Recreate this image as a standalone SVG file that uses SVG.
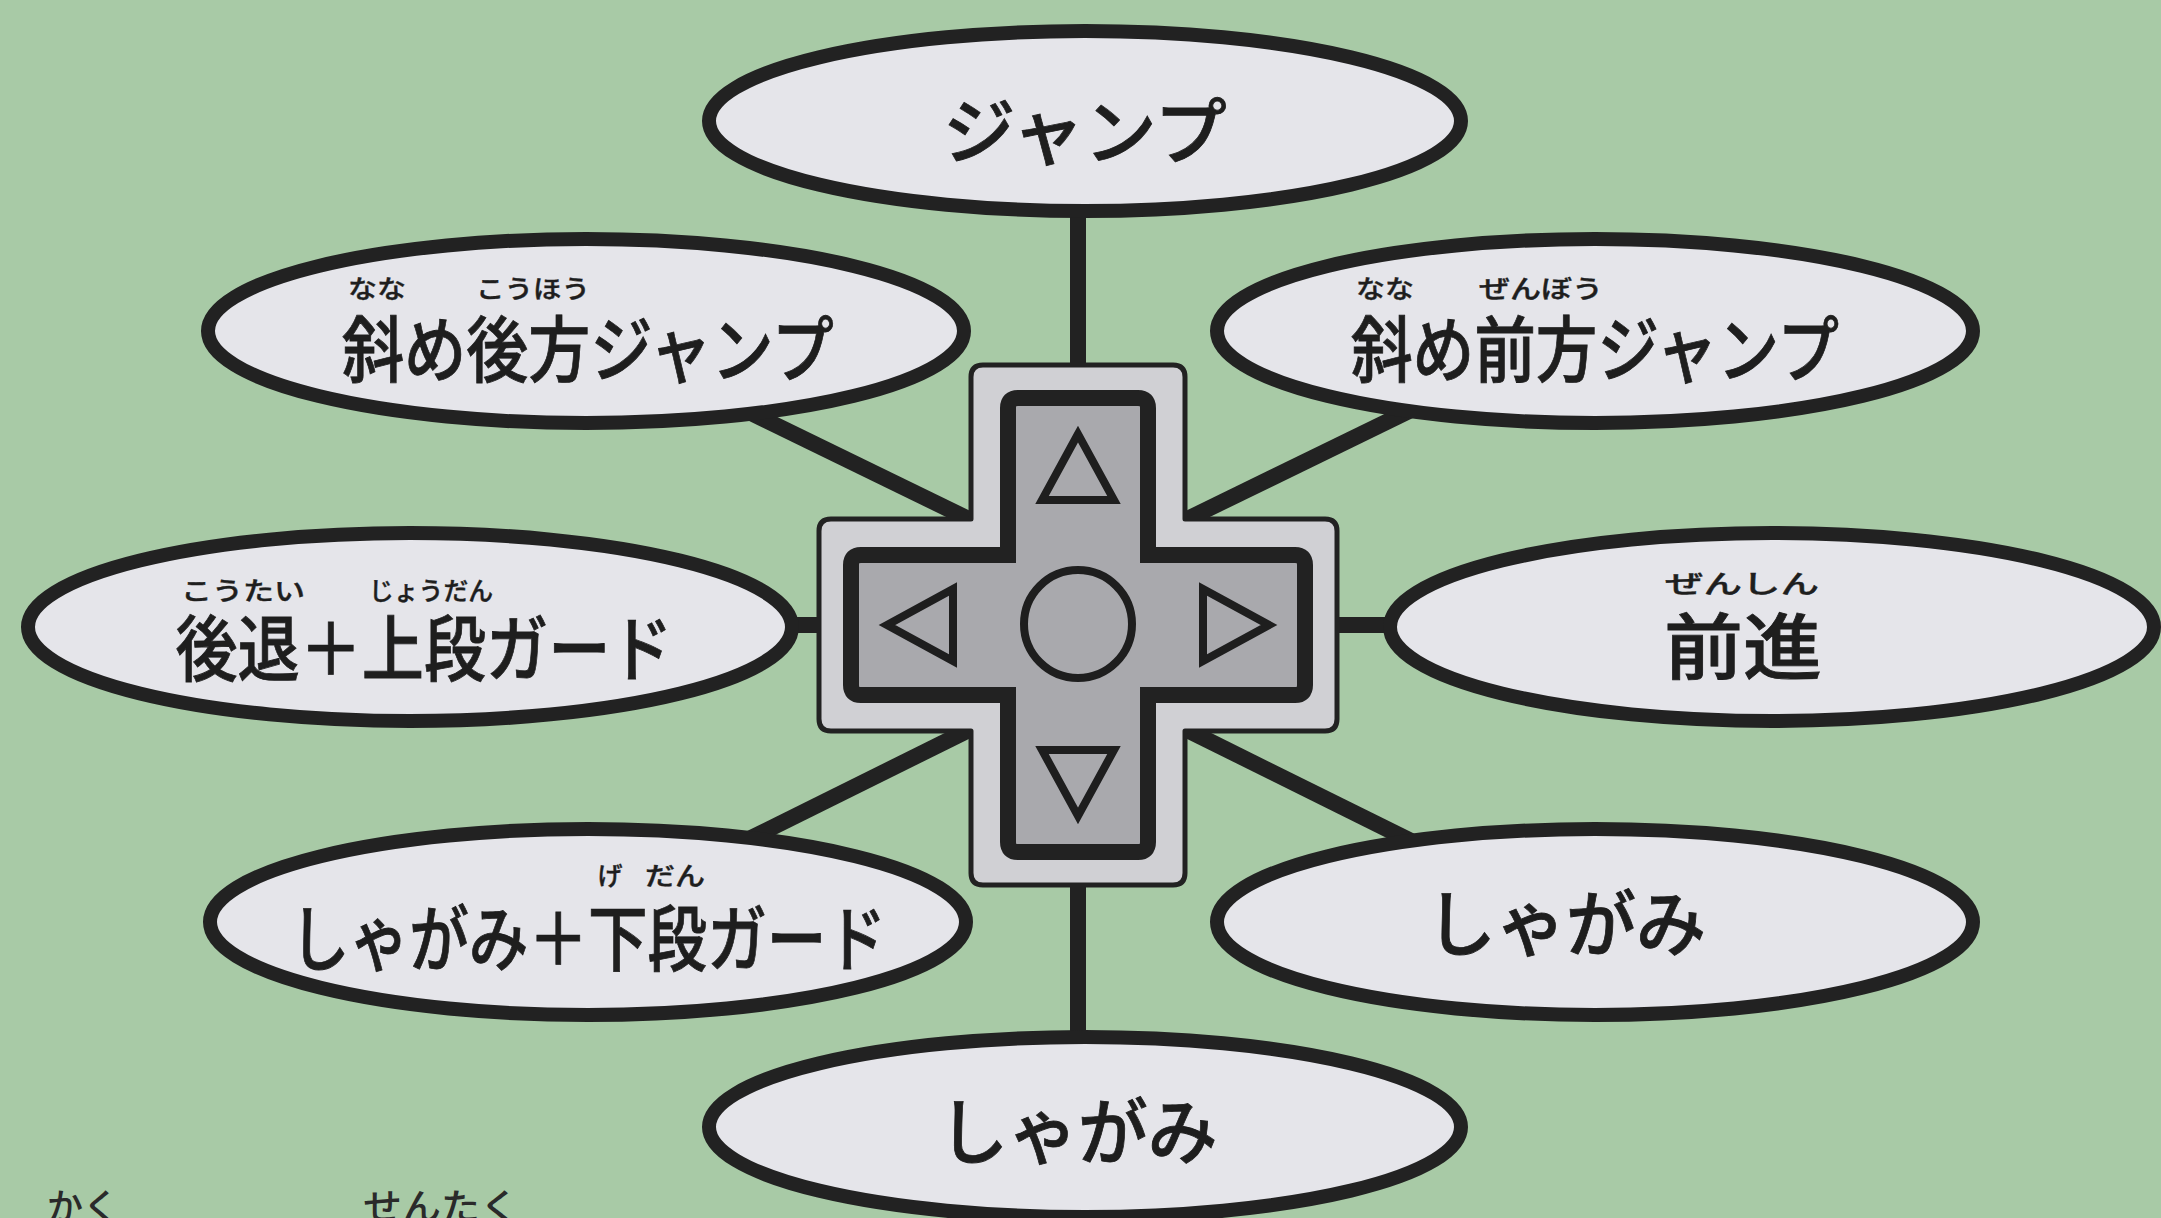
<svg xmlns="http://www.w3.org/2000/svg" width="2161" height="1218" viewBox="0 0 2161 1218">
<style>
.bg{fill:#a8caa6}
.conn{stroke:#222;stroke-width:16;stroke-linecap:butt;fill:none}
.oval{fill:#e5e5ea;stroke:#222;stroke-width:14}
.lbl{font-family:"Noto Sans CJK JP","Noto Sans CJK SC",sans-serif;font-weight:500;font-size:72px;fill:#1e1e1e;stroke:#1e1e1e;stroke-width:0.8;text-anchor:middle;dominant-baseline:central}
.ruby{font-family:"Noto Sans CJK JP","Noto Sans CJK SC",sans-serif;font-weight:500;font-size:25px;fill:#1e1e1e;stroke:#1e1e1e;stroke-width:0.4;text-anchor:middle;dominant-baseline:central}
.foot{font-family:"Noto Sans CJK JP","Noto Sans CJK SC",sans-serif;font-weight:500;font-size:36px;fill:#2a2a2a;dominant-baseline:central}
.padOuter{fill:#d0d0d4;stroke:#222;stroke-width:5;stroke-linejoin:round}
.padInner{fill:#a9a9ad;stroke:#222;stroke-width:16;stroke-linejoin:miter}
.mark{fill:none;stroke:#1e1e1e;stroke-width:8;stroke-linejoin:miter}
</style>
<rect class="bg" x="0" y="0" width="2161" height="1218"/>
<g id="connectors">
<line class="conn" x1="1078" y1="200" x2="1078" y2="380"/>
<line class="conn" x1="1078" y1="870" x2="1078" y2="1050"/>
<line class="conn" x1="770" y1="625" x2="835" y2="625"/>
<line class="conn" x1="1320" y1="625" x2="1400" y2="625"/>
<line class="conn" x1="745" y1="410" x2="985" y2="527"/>
<line class="conn" x1="1411" y1="410" x2="1171" y2="527"/>
<line class="conn" x1="745" y1="841" x2="985" y2="722"/>
<line class="conn" x1="1411" y1="841" x2="1171" y2="722"/>
</g>
<g id="node-jump">
<ellipse class="oval" cx="1085" cy="121" rx="376" ry="90"/>
<text class="lbl" x="1085" y="126" textLength="284" lengthAdjust="spacingAndGlyphs">ジャンプ</text>
</g>
<g id="node-back-jump">
<ellipse class="oval" cx="586" cy="331" rx="378" ry="92"/>
<text class="ruby" x="377" y="287" textLength="58" lengthAdjust="spacingAndGlyphs">なな</text>
<text class="ruby" x="533" y="287" textLength="114" lengthAdjust="spacingAndGlyphs">こうほう</text>
<text class="lbl" x="588" y="344" textLength="492" lengthAdjust="spacingAndGlyphs">斜め後方ジャンプ</text>
</g>
<g id="node-fwd-jump">
<ellipse class="oval" cx="1595" cy="331" rx="378" ry="92"/>
<text class="ruby" x="1385" y="287" textLength="58" lengthAdjust="spacingAndGlyphs">なな</text>
<text class="ruby" x="1541" y="287" textLength="124" lengthAdjust="spacingAndGlyphs">ぜんぼう</text>
<text class="lbl" x="1595" y="344" textLength="488" lengthAdjust="spacingAndGlyphs">斜め前方ジャンプ</text>
</g>
<g id="node-back-guard">
<ellipse class="oval" cx="410" cy="627" rx="382" ry="94"/>
<text class="ruby" x="243" y="589" textLength="124" lengthAdjust="spacingAndGlyphs">こうたい</text>
<text class="ruby" x="431" y="589" textLength="124" lengthAdjust="spacingAndGlyphs">じょうだん</text>
<text class="lbl" x="424" y="643" textLength="497" lengthAdjust="spacingAndGlyphs">後退＋上段ガード</text>
</g>
<g id="node-forward">
<ellipse class="oval" cx="1772" cy="627" rx="382" ry="94"/>
<text class="ruby" x="1742" y="582" textLength="154" lengthAdjust="spacingAndGlyphs">ぜんしん</text>
<text class="lbl" x="1743" y="641" textLength="158" lengthAdjust="spacingAndGlyphs">前進</text>
</g>
<g id="node-crouch-guard">
<ellipse class="oval" cx="588" cy="922" rx="378" ry="93"/>
<text class="ruby" x="610" y="874">げ</text>
<text class="ruby" x="675" y="874" textLength="60" lengthAdjust="spacingAndGlyphs">だん</text>
<text class="lbl" x="588" y="933" textLength="596" lengthAdjust="spacingAndGlyphs">しゃがみ＋下段ガード</text>
</g>
<g id="node-crouch-right">
<ellipse class="oval" cx="1595" cy="922" rx="378" ry="93"/>
<text class="lbl" x="1566" y="918" textLength="280" lengthAdjust="spacingAndGlyphs">しゃがみ</text>
</g>
<g id="node-crouch-down">
<ellipse class="oval" cx="1085" cy="1127" rx="376" ry="90"/>
<text class="lbl" x="1078" y="1126" textLength="279" lengthAdjust="spacingAndGlyphs">しゃがみ</text>
</g>
<g id="node-dpad">
<path class="padOuter" d="M 983 365 H 1173 Q 1185 365 1185 377 V 519 H 1325 Q 1337 519 1337 531 V 719 Q 1337 731 1325 731 H 1185 V 873 Q 1185 885 1173 885 H 983 Q 971 885 971 873 V 731 H 831 Q 819 731 819 719 V 531 Q 819 519 831 519 H 971 V 377 Q 971 365 983 365 Z"/>
<path class="padInner" d="M 1018 398 H 1138 Q 1148 398 1148 408 V 555 H 1295 Q 1305 555 1305 565 V 685 Q 1305 695 1295 695 H 1148 V 842 Q 1148 852 1138 852 H 1018 Q 1008 852 1008 842 V 695 H 861 Q 851 695 851 685 V 565 Q 851 555 861 555 H 1008 V 408 Q 1008 398 1018 398 Z"/>
<circle class="mark" cx="1078" cy="624" r="54"/>
<polygon class="mark" points="1078,434 1042,500 1114,500"/>
<polygon class="mark" points="1042,750 1114,750 1078,816"/>
<polygon class="mark" points="887,625 953,589 953,661"/>
<polygon class="mark" points="1203,589 1203,661 1269,625"/>
</g>
<g id="footer-text">
<text class="foot" x="47" y="1204">かく</text>
<text class="foot" x="363" y="1204" textLength="156" lengthAdjust="spacingAndGlyphs">せんたく</text>
</g>
</svg>
